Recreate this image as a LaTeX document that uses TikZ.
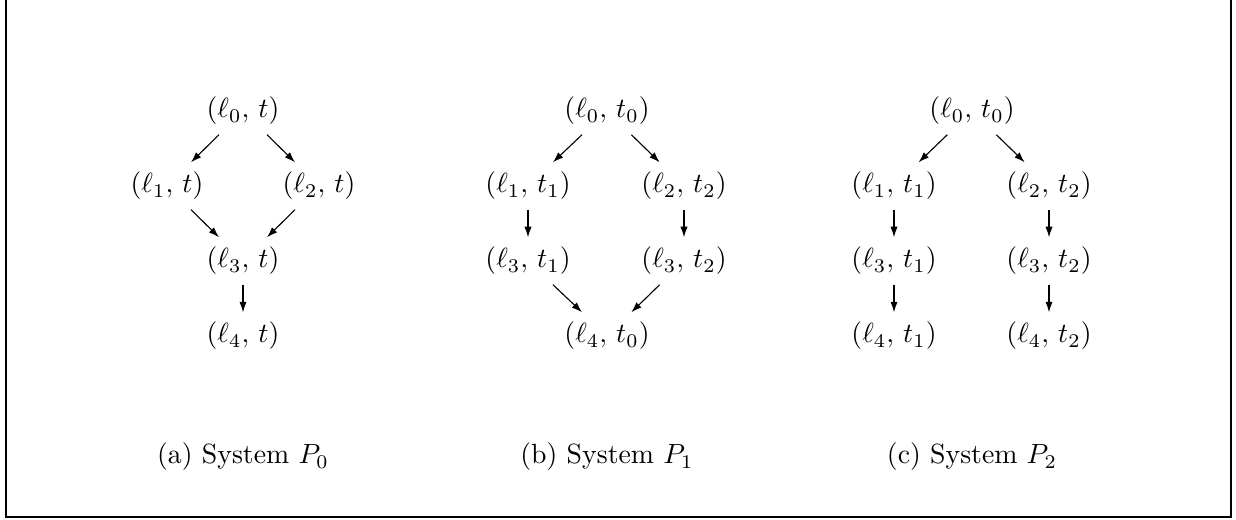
\documentclass[tikz,border=0pt]{standalone}
\usetikzlibrary{arrows.meta,positioning}

\begin{document}
\begin{tikzpicture}[x=0.36pt,y=-0.36pt,>={Latex[length=3.8pt,width=2.6pt]},
    st/.style={inner sep=3.33pt},
    tr/.style={->,line width=0.4pt}]
  \useasboundingbox (0,0) rectangle (1236,520);
  % open frame
  \draw[line width=0.75pt] (6,-20) -- (6,517) -- (1231,517) -- (1231,-20);
  % system P0
  \node[st] (a0) at (243,111) {$(\ell_0,\,t)$};
  \node[st] (a1) at (167,186) {$(\ell_1,\,t)$};
  \node[st] (a2) at (319,186) {$(\ell_2,\,t)$};
  \node[st] (a3) at (243,261) {$(\ell_3,\,t)$};
  \node[st] (a4) at (243,336) {$(\ell_4,\,t)$};
  \draw[tr] (a0) -- (a1);
  \draw[tr] (a0) -- (a2);
  \draw[tr] (a1) -- (a3);
  \draw[tr] (a2) -- (a3);
  \draw[tr] (a3) -- (a4);
  % system P1
  \node[st] (b0) at (607,111) {$(\ell_0,\,t_0)$};
  \node[st] (b1) at (528,186) {$(\ell_1,\,t_1)$};
  \node[st] (b2) at (684,186) {$(\ell_2,\,t_2)$};
  \node[st] (b3) at (528,261) {$(\ell_3,\,t_1)$};
  \node[st] (b4) at (684,261) {$(\ell_3,\,t_2)$};
  \node[st] (b5) at (607,336) {$(\ell_4,\,t_0)$};
  \draw[tr] (b0) -- (b1);
  \draw[tr] (b0) -- (b2);
  \draw[tr] (b1) -- (b3);
  \draw[tr] (b2) -- (b4);
  \draw[tr] (b3) -- (b5);
  \draw[tr] (b4) -- (b5);
  % system P2
  \node[st] (c0) at (972,111) {$(\ell_0,\,t_0)$};
  \node[st] (c1) at (894,186) {$(\ell_1,\,t_1)$};
  \node[st] (c2) at (1049,186) {$(\ell_2,\,t_2)$};
  \node[st] (c3) at (894,261) {$(\ell_3,\,t_1)$};
  \node[st] (c4) at (1049,261) {$(\ell_3,\,t_2)$};
  \node[st] (c5) at (894,336) {$(\ell_4,\,t_1)$};
  \node[st] (c6) at (1049,336) {$(\ell_4,\,t_2)$};
  \draw[tr] (c0) -- (c1);
  \draw[tr] (c0) -- (c2);
  \draw[tr] (c1) -- (c3);
  \draw[tr] (c2) -- (c4);
  \draw[tr] (c3) -- (c5);
  \draw[tr] (c4) -- (c6);
  % captions
  \node (capa) at (243,457) {(a) System $P_0$};
  \node (capb) at (607,457) {(b) System $P_1$};
  \node (capc) at (972,457) {(c) System $P_2$};
\end{tikzpicture}
\end{document}
